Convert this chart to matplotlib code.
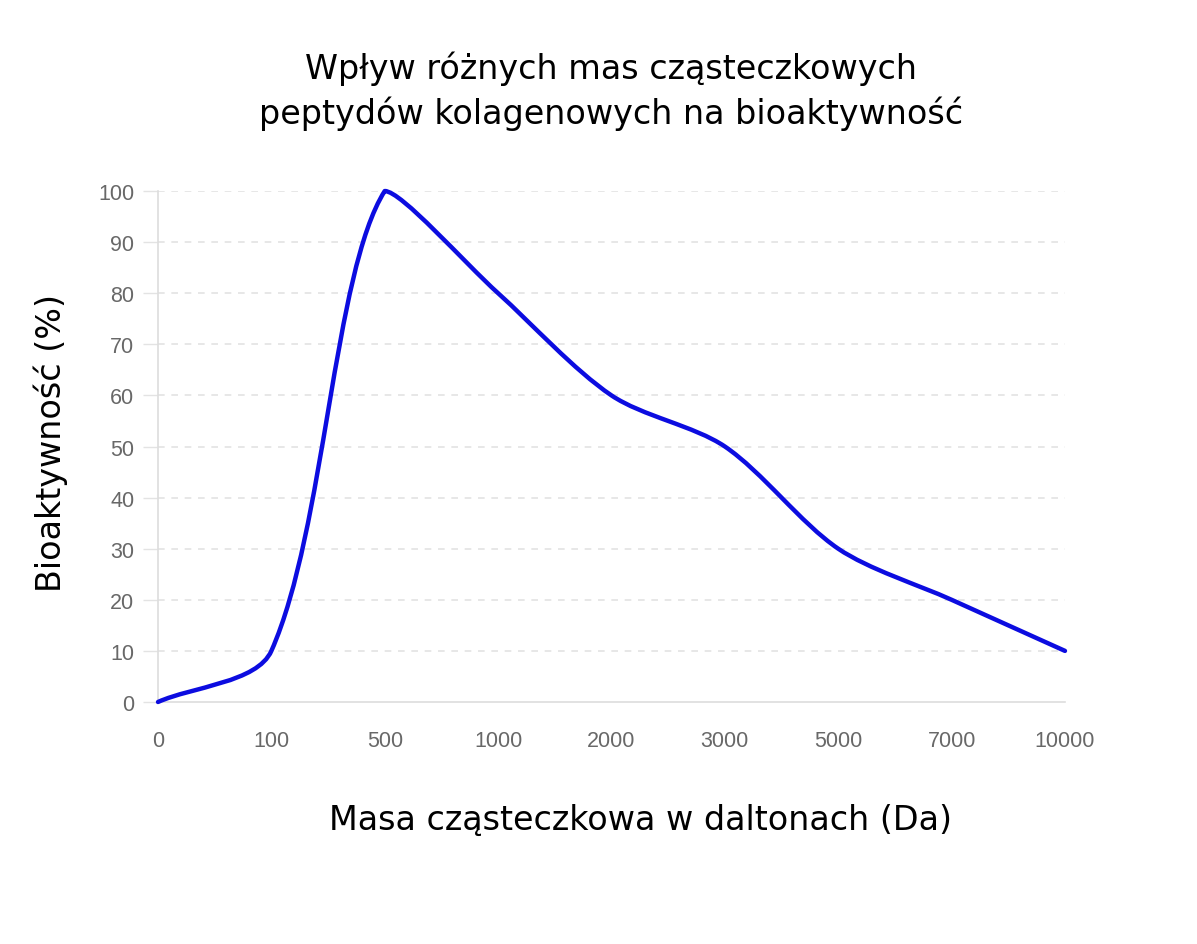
import numpy as np
import matplotlib.pyplot as plt
from matplotlib.path import Path
from matplotlib.patches import PathPatch

# categories (mass in Da) and bioactivity (%)
MASS_LABELS = ['0', '100', '500', '1000', '2000', '3000', '5000', '7000', '10000']
ACTIVITY = [0, 10, 100, 80, 60, 50, 30, 20, 10]
Y_TICKS = list(range(0, 101, 10))

TITLE = 'Wpływ różnych mas cząsteczkowych\npeptydów kolagenowych na bioaktywność'
X_LABEL = 'Masa cząsteczkowa w daltonach (Da)'
Y_LABEL = 'Bioaktywność (%)'


def spline_path(ax, xs, ys, tension=0.4):
    """
    chart.js style bezier curve, computed in pixel space
    """
    pts = ax.transData.transform(np.column_stack([xs, ys]))
    bbox = ax.bbox
    n = len(pts)
    cps = []
    for i in range(n):
        prev = pts[max(i - 1, 0)]
        cur = pts[i]
        nxt = pts[min(i + 1, n - 1)]
        d01 = np.hypot(*(cur - prev))
        d12 = np.hypot(*(nxt - cur))
        tot = d01 + d12
        s01 = d01 / tot if tot else 0
        s12 = d12 / tot if tot else 0
        cp1 = cur - tension * s01 * (nxt - prev)
        cp2 = cur + tension * s12 * (nxt - prev)
        for cp in (cp1, cp2):
            cp[0] = min(max(cp[0], bbox.x0), bbox.x1)
            cp[1] = min(max(cp[1], bbox.y0), bbox.y1)
        cps.append((cp1, cp2))
    verts = [pts[0]]
    codes = [Path.MOVETO]
    for i in range(1, n):
        verts += [cps[i - 1][1], cps[i][0], pts[i]]
        codes += [Path.CURVE4] * 3
    inv = ax.transData.inverted()
    return Path(inv.transform(np.array(verts)), codes)


fig = plt.figure(figsize=(11.97, 9.45), dpi=100, facecolor='white')
ax = fig.add_axes([0.132, 0.2561, 0.7577, 0.5407])

xs = np.arange(len(MASS_LABELS))
ax.set_xlim(0, len(MASS_LABELS) - 1)
ax.set_ylim(0, 100)

grid_color = '#e3e3e3'
for yv in Y_TICKS[1:]:
    ax.axhline(yv, color=grid_color, lw=1.2, ls=(0, (4, 4)), zorder=1)

for side in ('top', 'right'):
    ax.spines[side].set_visible(False)
for side in ('left', 'bottom'):
    ax.spines[side].set_color('#dddddd')
    ax.spines[side].set_linewidth(1.2)

ax.set_xticks(xs)
ax.set_xticklabels(MASS_LABELS, family='Liberation Sans', fontsize=15.5, color='#686868')
ax.set_yticks(Y_TICKS)
ax.set_yticklabels([str(v) for v in Y_TICKS], family='Liberation Sans', fontsize=15.5, color='#686868')
ax.tick_params(axis='x', length=0, pad=20)
ax.tick_params(axis='y', length=11, width=1.0, color=grid_color, pad=6)

fig.canvas.draw()
path = spline_path(ax, xs, ACTIVITY, tension=0.3)
ax.add_patch(PathPatch(path, facecolor='none', edgecolor='#0c0ce0', lw=3.2,
                       capstyle='round', joinstyle='round', zorder=3, clip_on=False))

fig.text(0.5105, 0.9035, TITLE, ha='center', va='center', fontsize=24,
         family='DejaVu Sans', linespacing=1.36)
fig.text(0.535, 0.132, X_LABEL, ha='center', va='center', fontsize=24, family='DejaVu Sans')
fig.text(0.042, 0.531, Y_LABEL, ha='center', va='center', fontsize=24,
         family='DejaVu Sans', rotation=90)

fig.savefig('out.png', dpi=100, facecolor='white')
